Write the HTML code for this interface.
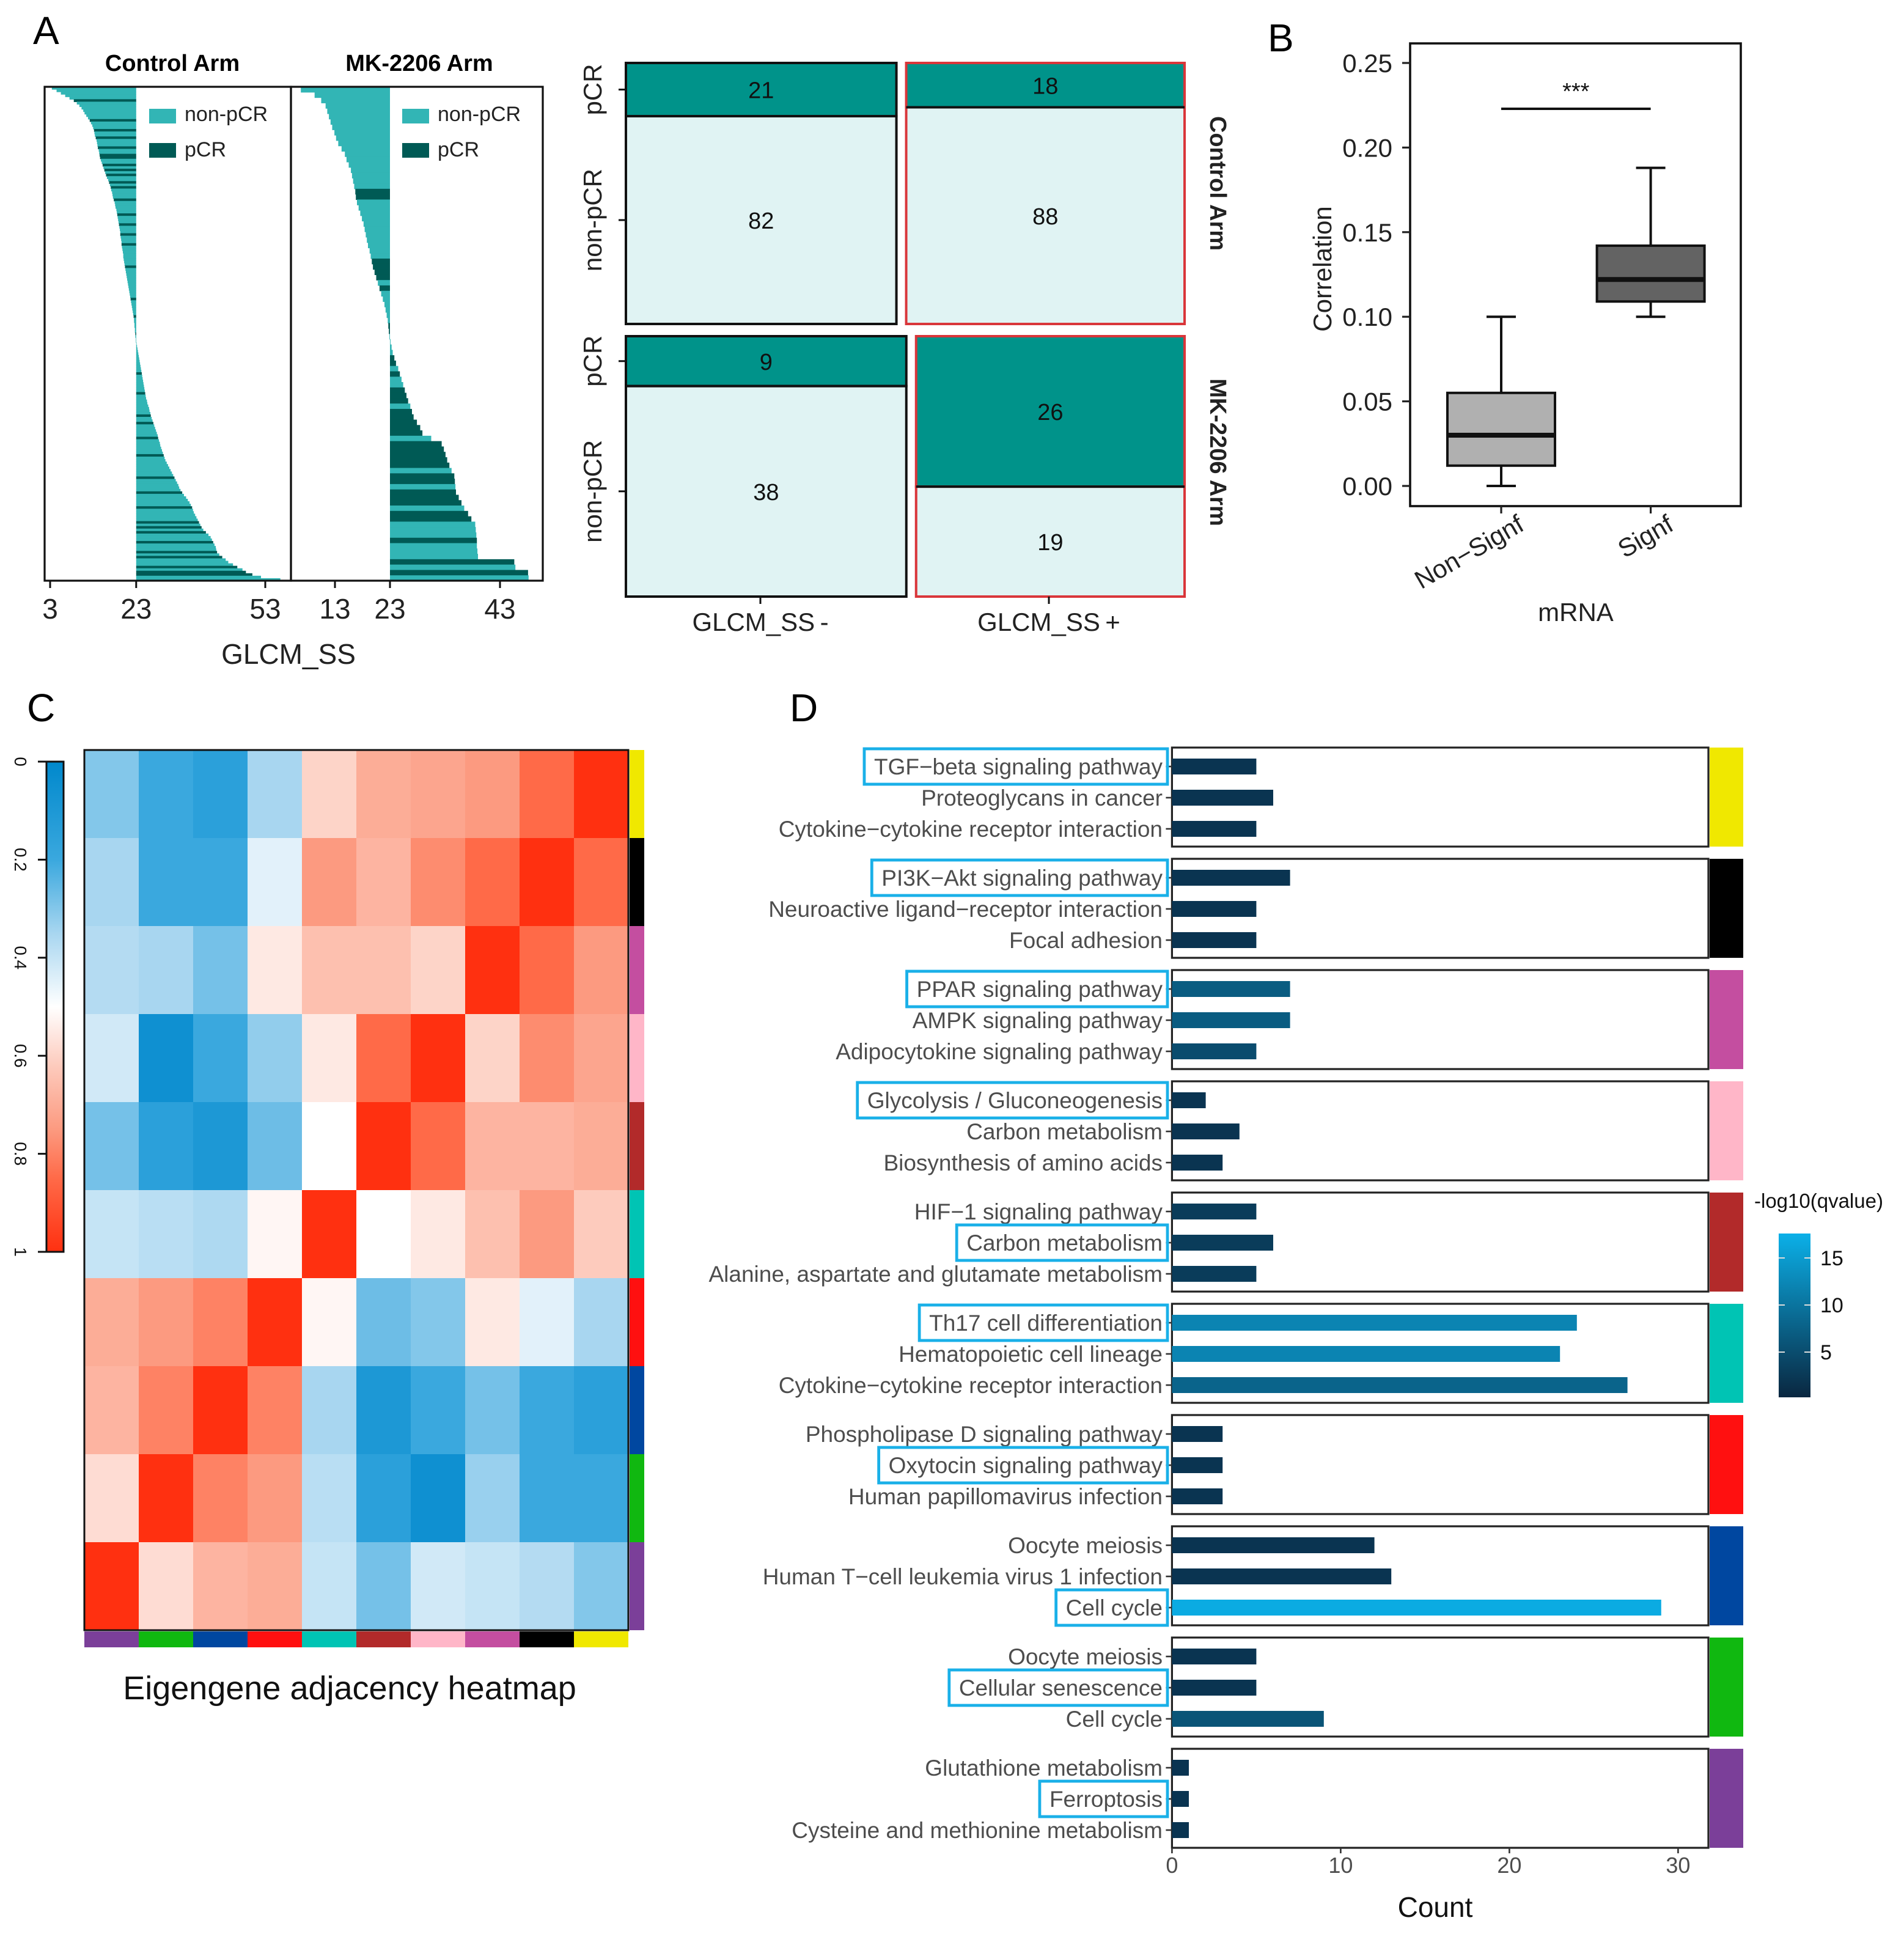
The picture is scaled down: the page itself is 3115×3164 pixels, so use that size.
<!DOCTYPE html>
<html><head><meta charset="utf-8"><style>
html,body{margin:0;padding:0;background:#fff;}
svg{display:block;}
text{font-family:"Liberation Sans","DejaVu Sans",sans-serif;}
</style></head><body>
<svg id="fig" xmlns="http://www.w3.org/2000/svg" width="3115" height="3164" viewBox="0 0 1557.5 1582">
<rect x="0" y="0" width="1557.5" height="1582" fill="#fff"/>
</svg>
<script>
// ===== Panel A waterfall data =====
const ctrlLeft=[3.4,4.5,5.5,6.5,7.5,8.5,9.2,9.8,10.3,10.7,11.0,11.4,11.8,12.2,12.5,12.8,13.0,13.2,13.3,13.4,13.6,13.8,13.9,14.0,14.1,14.3,14.4,14.5,14.6,14.8,15.0,15.2,15.4,15.6,15.8,16.0,16.2,16.5,16.7,16.9,17.1,17.2,17.4,17.5,17.6,17.8,18.0,18.1,18.2,18.4,18.5,18.6,18.7,18.8,18.9,19.0,19.1,19.2,19.3,19.3,19.4,19.5,19.6,19.6,19.7,19.8,19.9,20.0,20.0,20.1,20.2,20.3,20.4,20.5,20.6,20.7,20.8,20.9,21.0,21.1,21.2,21.3,21.4,21.5,21.6,21.7,21.8,21.9,22.0,22.1,22.2,22.3,22.4,22.5,22.5,22.6,22.6,22.7,22.7,22.8,22.8,22.9,22.9];
const ctrlLeftPCR=[5,13,17,20,24,27,28,31,33,35,38,40,45,51,55,59,63,72,85,92,99];
const ctrlRight=[23.1,23.2,23.3,23.4,23.5,23.6,23.7,23.8,23.9,24.0,24.1,24.2,24.3,24.4,24.5,24.6,24.7,24.8,24.9,25.0,25.1,25.2,25.3,25.5,25.6,25.8,26.0,26.1,26.3,26.4,26.6,26.8,27.0,27.2,27.4,27.6,27.8,28.0,28.1,28.3,28.5,28.6,28.8,29.0,29.2,29.4,29.6,29.8,30.1,30.4,30.7,31.0,31.3,31.6,31.9,32.2,32.5,32.8,33.0,33.3,33.7,34.1,34.6,35.0,35.4,35.7,36.0,36.2,36.4,36.7,37.0,37.3,37.6,37.9,38.2,38.6,39.2,39.8,40.3,40.6,40.9,41.2,41.5,41.6,41.8,42.3,43.0,43.8,44.4,45.5,46.5,47.7,48.5,50,52,56.5];
const ctrlRightPCR=[12,20,29,32,38,45,54,60,66,72,74,76,80,84,86,90,92,93];
const mkLeft=[6.8,9.3,10.5,11.3,11.6,11.9,12.2,12.5,12.9,13.2,13.6,14.2,14.8,15.1,15.5,15.9,16.1,16.3,16.5,16.7,16.8,17.0,17.3,17.6,17.9,18.2,18.4,18.6,18.8,19.0,19.3,19.5,19.7,19.9,20.2,20.5,20.8,21.1,21.4,21.7,22.0,22.2,22.4,22.6,22.7,22.8,22.9];
const mkLeftPCR=[19,20,32,33,34,35,37,44,45];
const mkRight=[23.1,23.3,23.5,23.8,24.1,24.5,24.8,25.1,25.4,25.7,26.0,26.3,26.7,27.0,27.3,27.9,28.5,28.9,30.5,32.4,32.8,33.1,33.4,33.8,34.2,34.7,34.8,34.9,35.0,35.5,36.0,36.5,37.2,37.8,38.5,38.6,38.7,38.8,38.8,38.9,39.0,45.6,45.8,48.1,48.2];
const mkRightPCR=[3,4,6,9,10,11,13,14,15,16,17,19,20,21,22,23,25,26,28,29,30,32,33,37,41,43];
const ctrlTicks=[3,23,53];
const mkTicks=[13,23,43];
// ===== Panel A mosaic data =====
const mosaicCtrl=[[21,82],[18,88]];
const mosaicMK=[[9,38],[26,19]];
// ===== Panel B boxplot data =====
const boxCats=["Non\u2212Signf","Signf"];
const boxMin=[0.0,0.100];
const boxQ1=[0.012,0.109];
const boxMed=[0.030,0.122];
const boxQ3=[0.055,0.142];
const boxMax=[0.100,0.188];
const boxTicks=[0,0.05,0.10,0.15,0.20,0.25];
// ===== Panel C heatmap data =====
const heatMatrix=[
[0.30,0.20,0.15,0.35,0.60,0.70,0.72,0.75,0.85,1.00],
[0.35,0.20,0.20,0.45,0.75,0.68,0.78,0.85,1.00,0.85],
[0.37,0.35,0.28,0.55,0.65,0.65,0.60,1.00,0.85,0.75],
[0.42,0.05,0.20,0.32,0.55,0.85,1.00,0.60,0.78,0.72],
[0.28,0.15,0.10,0.27,0.50,1.00,0.85,0.68,0.68,0.70],
[0.40,0.38,0.36,0.52,1.00,0.50,0.55,0.65,0.75,0.62],
[0.70,0.75,0.80,1.00,0.52,0.27,0.30,0.55,0.45,0.35],
[0.68,0.80,1.00,0.80,0.35,0.10,0.20,0.28,0.20,0.15],
[0.58,1.00,0.80,0.75,0.38,0.15,0.05,0.33,0.20,0.20],
[1.00,0.58,0.68,0.70,0.40,0.28,0.42,0.40,0.37,0.30]];
const rowModules=["#f0e800","#000000","#c44ea0","#ffb6c8","#b22a2a","#00c4b4","#ff1010","#0047a0","#10b810","#7b3f99"];
const colModules=["#7b3f99","#10b810","#0047a0","#ff1010","#00c4b4","#b22a2a","#ffb6c8","#c44ea0","#000000","#f0e800"];
const heatTicks=[0,0.2,0.4,0.6,0.8,1];
// ===== Panel D data =====
const termNames=["TGF\u2212beta signaling pathway","Proteoglycans in cancer","Cytokine\u2212cytokine receptor interaction",
"PI3K\u2212Akt signaling pathway","Neuroactive ligand\u2212receptor interaction","Focal adhesion",
"PPAR signaling pathway","AMPK signaling pathway","Adipocytokine signaling pathway",
"Glycolysis / Gluconeogenesis","Carbon metabolism","Biosynthesis of amino acids",
"HIF\u22121 signaling pathway","Carbon metabolism","Alanine, aspartate and glutamate metabolism",
"Th17 cell differentiation","Hematopoietic cell lineage","Cytokine\u2212cytokine receptor interaction",
"Phospholipase D signaling pathway","Oxytocin signaling pathway","Human papillomavirus infection",
"Oocyte meiosis","Human T\u2212cell leukemia virus 1 infection","Cell cycle",
"Oocyte meiosis","Cellular senescence","Cell cycle",
"Glutathione metabolism","Ferroptosis","Cysteine and methionine metabolism"];
const termCounts=[5,6,5, 7,5,5, 7,7,5, 2,4,3, 5,6,5, 24,23,27, 3,3,3, 12,13,29, 5,5,9, 1,1,1];
const termQ=[2,2,2, 2,2,2, 7,7,5, 2,2,2, 3,3,3, 12,12,8, 2,2,2, 2,2,17, 2,2,6, 2,2,2];
const highlighted=[0,3,6,9,13,15,19,23,25,28];
const groupColors=["#f0e800","#000000","#c44ea0","#ffb6c8","#b22a2a","#00c4b4","#ff1010","#0047a0","#10b810","#7b3f99"];
const countTicks=[0,10,20,30];
const qTicks=[5,10,15];

const NS="http://www.w3.org/2000/svg";
const svg=document.getElementById('fig');
function mk(tag,attrs,parent){const e=document.createElementNS(NS,tag);for(const k in attrs)e.setAttribute(k,attrs[k]);(parent||svg).appendChild(e);return e;}
function txt(str,attrs,parent){const e=mk('text',attrs,parent);e.textContent=str;return e;}
let el;
const defs=mk('defs',{});

// Panel letters
el=txt("A",{x:27,y:36,'font-size':32});


el=txt("B",{x:1037,y:42,'font-size':32});


el=txt("C",{x:22,y:590,'font-size':32});


el=txt("D",{x:646,y:590,'font-size':32});



// ===== Panel A waterfall =====
const AF="'DejaVu Sans',sans-serif";
const wfTop=71, wfBot=475;
const xCtrl=v=>41+(v-3)*3.52;
const xMK=v=>319+(v-23)*4.5;
function drawWaterfall(left,leftP,right,rightP,xf,name){
  const all=left.concat(right);
  const pset=new Set(leftP.concat(rightP.map(i=>i+left.length)));
  const h=(wfBot-wfTop)/all.length;
  const g=mk('g',{});
  
  
  all.forEach((v,i)=>{
    const x0=xf(23), x1=xf(v);
    const r=mk('rect',{x:Math.min(x0,x1),y:wfTop+i*h,width:Math.abs(x1-x0),height:h+0.3,fill:pset.has(i)?'#005a55':'#32b5b5'},g);
    
    
  });
}
drawWaterfall(ctrlLeft,ctrlLeftPCR,ctrlRight,ctrlRightPCR,xCtrl,'control-arm');
drawWaterfall(mkLeft,mkLeftPCR,mkRight,mkRightPCR,xMK,'mk2206-arm');
el=mk('rect',{x:36.5,y:71,width:201.5,height:404,fill:'none',stroke:'#111','stroke-width':1.6});


el=mk('rect',{x:238,y:71,width:206,height:404,fill:'none',stroke:'#111','stroke-width':1.6});


el=txt("Control Arm",{x:141,y:58,'font-size':19,'font-weight':'bold','text-anchor':'middle','font-family':AF});


el=txt("MK-2206 Arm",{x:343,y:58,'font-size':19,'font-weight':'bold','text-anchor':'middle','font-family':AF});


[[122,151],[329,358]].forEach(([sx,tx],k)=>{
  el=mk('rect',{x:sx,y:89,width:22,height:12,fill:'#32b5b5'});
  
  
  el=txt("non-pCR",{x:tx,y:99,'font-size':17,'font-family':AF,fill:'#222'});
  
  
  el=mk('rect',{x:sx,y:117,width:22,height:12,fill:'#005a55'});
  
  
  el=txt("pCR",{x:tx,y:128,'font-size':17,'font-family':AF,fill:'#222'});
  
  
});
ctrlTicks.forEach(t=>{
  const x=xCtrl(t);
  el=mk('line',{x1:x,x2:x,y1:475,y2:481,stroke:'#111','stroke-width':1.5});
  
  
  el=txt(String(t),{x:x,y:506,'font-size':23,'text-anchor':'middle','font-family':AF,fill:'#222'});
  
  
});
mkTicks.forEach(t=>{
  const x=xMK(t);
  el=mk('line',{x1:x,x2:x,y1:475,y2:481,stroke:'#111','stroke-width':1.5});
  
  
  el=txt(String(t),{x:x,y:506,'font-size':23,'text-anchor':'middle','font-family':AF,fill:'#222'});
  
  
});
el=txt("GLCM_SS",{x:236,y:543,'font-size':23,'text-anchor':'middle','font-family':AF,fill:'#222'});



// ===== Panel A mosaic =====
const mosX0=512, mosW=449, mosGap=8;
function drawMosaic(data,y0,y1,name){
  const tot=data[0][0]+data[0][1]+data[1][0]+data[1][1];
  let x=mosX0;
  data.forEach((col,ci)=>{
    const n=col[0]+col[1];
    const w=mosW*n/tot;
    const hP=(y1-y0)*col[0]/n;
    const stroke=ci===1?'#d9363a':'#111';
    el=mk('rect',{x:x,y:y0,width:w,height:hP,fill:'#00938a',stroke:stroke,'stroke-width':2});
    
    
    el=mk('rect',{x:x,y:y0+hP,width:w,height:(y1-y0)-hP,fill:'#e0f3f3',stroke:stroke,'stroke-width':2});
    
    
    el=mk('line',{x1:x,x2:x+w,y1:y0+hP,y2:y0+hP,stroke:'#111','stroke-width':2});
    
    
    el=txt(String(col[0]),{x:x+w/2,y:y0+hP/2+7,'font-size':19,'text-anchor':'middle','font-family':AF,fill:'#111'});
    
    
    el=txt(String(col[1]),{x:x+w/2,y:y0+hP+((y1-y0)-hP)/2+7,'font-size':19,'text-anchor':'middle','font-family':AF,fill:'#111'});
    
    
    if(ci===0){
      const yp=y0+hP/2, yn=y0+hP+((y1-y0)-hP)/2;
      el=mk('line',{x1:506,x2:512,y1:yp,y2:yp,stroke:'#111','stroke-width':1.5});
      
      
      el=mk('line',{x1:506,x2:512,y1:yn,y2:yn,stroke:'#111','stroke-width':1.5});
      
      
      el=txt("pCR",{x:0,y:0,'font-size':21,'text-anchor':'middle','font-family':AF,fill:'#222',transform:`translate(492,${yp}) rotate(-90)`});
      
      
      el=txt("non-pCR",{x:0,y:0,'font-size':21,'text-anchor':'middle','font-family':AF,fill:'#222',transform:`translate(492,${yn}) rotate(-90)`});
      
      
    }
    x+=w+mosGap;
  });
}
drawMosaic(mosaicCtrl,51.5,265,'control');
drawMosaic(mosaicMK,275,488,'mk2206');
el=txt("Control Arm",{x:0,y:0,'font-size':19,'font-weight':'bold','text-anchor':'middle','font-family':AF,fill:'#222',transform:'translate(990,150) rotate(90)'});


el=txt("MK-2206 Arm",{x:0,y:0,'font-size':19,'font-weight':'bold','text-anchor':'middle','font-family':AF,fill:'#222',transform:'translate(990,370) rotate(90)'});


[[622,"GLCM_SS\u2009-"],[858,"GLCM_SS\u2009+"]].forEach(([x,s])=>{
  el=mk('line',{x1:x,x2:x,y1:488,y2:494,stroke:'#111','stroke-width':1.5});
  
  
  el=txt(s,{x:x,y:516,'font-size':21,'text-anchor':'middle','font-family':AF,fill:'#222'});
  
  
});

// ===== Panel B =====
const yB=v=>397.5-v*1384;
const xB=i=>1228+i*122.3;
el=mk('rect',{x:1153.5,y:35.5,width:270.5,height:378.5,fill:'none',stroke:'#111','stroke-width':1.8});


boxTicks.forEach(t=>{
  const y=yB(t);
  el=mk('line',{x1:1147,x2:1153.5,y1:y,y2:y,stroke:'#222','stroke-width':1.6});
  
  
  el=txt(t.toFixed(2),{x:1139,y:y+7.5,'font-size':21,'text-anchor':'end',fill:'#222'});
  
  
});
boxCats.forEach((c,i)=>{
  const cx=xB(i), fill=i===0?'#b0b0b0':'#636363';
  el=mk('line',{x1:cx,x2:cx,y1:yB(boxMax[i]),y2:yB(boxQ3[i]),stroke:'#111','stroke-width':2});
  
  
  el=mk('line',{x1:cx,x2:cx,y1:yB(boxQ1[i]),y2:yB(boxMin[i]),stroke:'#111','stroke-width':2});
  
  
  el=mk('line',{x1:cx-12,x2:cx+12,y1:yB(boxMax[i]),y2:yB(boxMax[i]),stroke:'#111','stroke-width':2});
  
  
  el=mk('line',{x1:cx-12,x2:cx+12,y1:yB(boxMin[i]),y2:yB(boxMin[i]),stroke:'#111','stroke-width':2});
  
  
  el=mk('rect',{x:cx-44,y:yB(boxQ3[i]),width:88,height:yB(boxQ1[i])-yB(boxQ3[i]),fill:fill,stroke:'#111','stroke-width':2});
  
  
  el=mk('line',{x1:cx-44,x2:cx+44,y1:yB(boxMed[i]),y2:yB(boxMed[i]),stroke:'#111','stroke-width':4});
  
  
  el=mk('line',{x1:cx,x2:cx,y1:414,y2:420,stroke:'#222','stroke-width':1.6});
  
  
  el=txt(c,{x:0,y:0,'font-size':21,'text-anchor':'end',fill:'#222',transform:`translate(${cx+20},${433}) rotate(-30)`});
  
  
});
el=mk('line',{x1:xB(0),x2:xB(1),y1:89,y2:89,stroke:'#111','stroke-width':2});


el=txt("***",{x:(xB(0)+xB(1))/2,y:81,'font-size':19,'text-anchor':'middle',fill:'#111'});


el=txt("Correlation",{x:0,y:0,'font-size':21,'text-anchor':'middle',fill:'#222',transform:'translate(1089,220) rotate(-90)'});


el=txt("mRNA",{x:1289,y:508,'font-size':21,'text-anchor':'middle',fill:'#222'});



// ===== Panel C heatmap =====
const hx0=69, hy0=613.5, cw=44.5, ch=72;
function lerp(a,b,t){return a+(b-a)*t;}
function hex(c){return [parseInt(c.slice(1,3),16),parseInt(c.slice(3,5),16),parseInt(c.slice(5,7),16)];}
const stops=[[0,'#0088cc'],[0.2,'#3aa8de'],[0.35,'#a8d6f0'],[0.5,'#ffffff'],[0.62,'#fdcbbd'],[0.75,'#fc9a80'],[0.85,'#ff6a48'],[1,'#ff3010']];
function heatColor(v){
  for(let i=1;i<stops.length;i++){ if(v<=stops[i][0]){const t=(v-stops[i-1][0])/(stops[i][0]-stops[i-1][0]);const a=hex(stops[i-1][1]),b=hex(stops[i][1]);return `rgb(${Math.round(lerp(a[0],b[0],t))},${Math.round(lerp(a[1],b[1],t))},${Math.round(lerp(a[2],b[2],t))})`;}}
  return stops[stops.length-1][1];
}
heatMatrix.forEach((row,r)=>row.forEach((v,c)=>{
  el=mk('rect',{x:hx0+c*cw,y:hy0+r*ch,width:cw+0.4,height:ch+0.4,fill:heatColor(v)});
  
  
}));
el=mk('rect',{x:hx0,y:hy0,width:cw*10,height:ch*10,fill:'none',stroke:'#111','stroke-width':1.5});


rowModules.forEach((c,i)=>{
  el=mk('rect',{x:hx0+cw*10+1,y:hy0+i*ch,width:12,height:ch,fill:c});
  
  
});
colModules.forEach((c,i)=>{
  el=mk('rect',{x:hx0+i*cw,y:hy0+ch*10+1,width:cw,height:13,fill:c});
  
  
});
const cbTop=623, cbBot=1024;
const cbGrad=mk('linearGradient',{id:'hg',x1:0,y1:0,x2:0,y2:1},defs);
stops.forEach(s=>{mk('stop',{offset:s[0],'stop-color':s[1]},cbGrad);});
el=mk('rect',{x:38,y:cbTop,width:14,height:cbBot-cbTop,fill:'url(#hg)',stroke:'#111','stroke-width':1.5});


heatTicks.forEach(t=>{
  const y=cbTop+t*(cbBot-cbTop);
  el=mk('line',{x1:31,x2:38,y1:y,y2:y,stroke:'#111','stroke-width':1.5});
  
  
  el=txt(String(t),{x:0,y:0,'font-size':14,'text-anchor':'middle',fill:'#111',transform:`translate(12,${y}) rotate(90)`});
  
  
});
el=txt("Eigengene adjacency heatmap",{x:286,y:1390,'font-size':27,'text-anchor':'middle',fill:'#111'});



// ===== Panel D =====
const dX0=958.7, dXR=1397.5, gTop=611.5, gStep=91, gH=81;
const xD=v=>dX0+v*13.8;
const qLow=[10,39,64], qHigh=[11,176,232];
function qColor(q){const t=Math.max(0,Math.min(1,(q-0.3)/17.3));return `rgb(${Math.round(lerp(qLow[0],qHigh[0],t))},${Math.round(lerp(qLow[1],qHigh[1],t))},${Math.round(lerp(qLow[2],qHigh[2],t))})`;}
for(let g=0;g<groupColors.length;g++){
  const gy=gTop+g*gStep;
  el=mk('rect',{x:dX0,y:gy,width:dXR-dX0,height:gH,fill:'#fff',stroke:'#222','stroke-width':1.6});
  
  
  el=mk('rect',{x:dXR+1,y:gy,width:27.5,height:gH,fill:groupColors[g]});
  
  
}
termNames.forEach((n,i)=>{
  const g=Math.floor(i/3), k=i%3;
  const y=gTop+g*gStep+15.5+k*25.5;
  el=mk('rect',{x:dX0,y:y-6.5,width:xD(termCounts[i])-dX0,height:13,fill:qColor(termQ[i])});
  
  
  el=mk('line',{x1:dX0-5,x2:dX0,y1:y,y2:y,stroke:'#333','stroke-width':1.3});
  
  
  const t=txt(n,{x:951,y:y+6.5,'font-size':18.5,'text-anchor':'end',fill:'#4d4d4d'});
  
  
  if(highlighted.includes(i)){
    const w=t.getComputedTextLength();
    el=mk('rect',{x:951-w-8,y:y-14.5,width:w+12,height:29,fill:'none',stroke:'#1ab0e8','stroke-width':2.4});
    
    
  }
});
countTicks.forEach(t=>{
  const x=xD(t);
  el=mk('line',{x1:x,x2:x,y1:1511.5,y2:1516,stroke:'#333','stroke-width':1.3});
  
  
  el=txt(String(t),{x:x,y:1532,'font-size':18,'text-anchor':'middle',fill:'#4d4d4d'});
  
  
});
el=txt("Count",{x:1174,y:1568,'font-size':23,'text-anchor':'middle',fill:'#111'});


const qGrad=mk('linearGradient',{id:'qg',x1:0,y1:1,x2:0,y2:0},defs);
mk('stop',{offset:0,'stop-color':'rgb(10,39,64)'},qGrad);
mk('stop',{offset:1,'stop-color':'rgb(11,176,232)'},qGrad);
el=mk('rect',{x:1455,y:1009,width:26,height:134,fill:'url(#qg)'});


el=txt("-log10(qvalue)",{x:1435,y:988,'font-size':16.5,fill:'#111'});


qTicks.forEach(q=>{
  const y=1106-(q-5)*7.7;
  el=mk('line',{x1:1455,x2:1460,y1:y,y2:y,stroke:'#ddd','stroke-width':1});
  
  
  el=mk('line',{x1:1476,x2:1481,y1:y,y2:y,stroke:'#ddd','stroke-width':1});
  
  
  el=txt(String(q),{x:1489,y:y+6,'font-size':17,'fill':'#111'});
  
  
});
</script>
</body></html>
